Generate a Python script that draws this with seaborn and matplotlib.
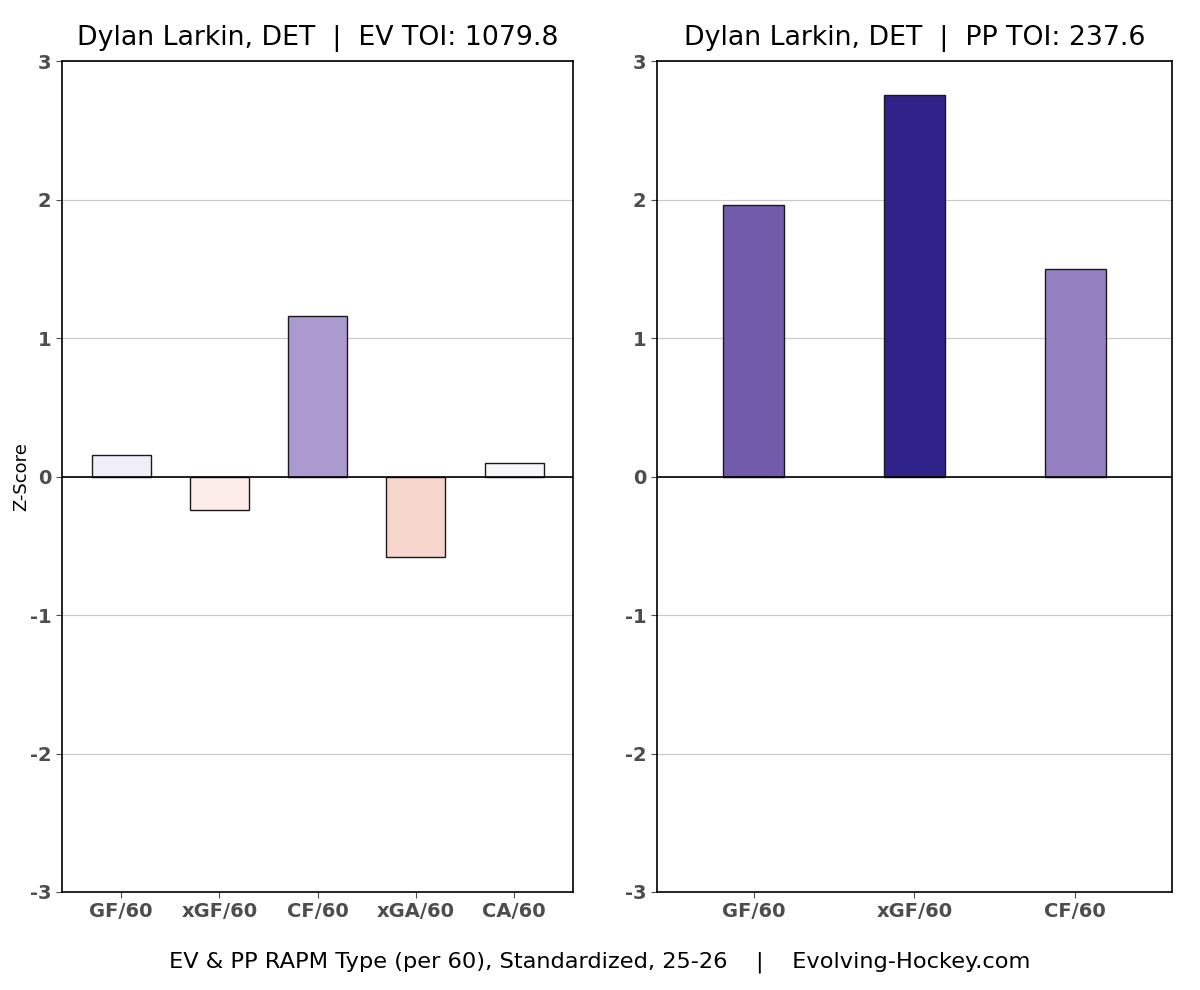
import seaborn as sns
import matplotlib.pyplot as plt
import pandas as pd

# EV panel
ev_types = ["GF/60", "xGF/60", "CF/60", "xGA/60", "CA/60"]
ev_z = [0.16, -0.24, 1.16, -0.58, 0.10]
ev_colors = ["#f0eff7", "#fdede8", "#ab9ad0", "#f7d6cb", "#f7f7fa"]

# PP panel
pp_types = ["GF/60", "xGF/60", "CF/60"]
pp_z = [1.96, 2.76, 1.50]
pp_colors = ["#725bab", "#2f238a", "#9580c2"]

player = "Dylan Larkin, DET"
ev_toi = 1079.8
pp_toi = 237.6

sns.set_style("white")
plt.rcParams['font.family'] = ['DejaVu Sans']
plt.rcParams['text.color'] = 'black'
plt.rcParams['axes.labelcolor'] = 'black'

fig = plt.figure(figsize=(12, 9.9), dpi=100)
ax1 = fig.add_axes([0.0517, 0.099, 0.426, 0.839])
ax2 = fig.add_axes([0.5475, 0.099, 0.429, 0.839])

panels = [
    (ax1, ev_types, ev_z, ev_colors, 0.6, f"{player}  |  EV TOI: {ev_toi}"),
    (ax2, pp_types, pp_z, pp_colors, 0.38, f"{player}  |  PP TOI: {pp_toi}"),
]

for ax, types, vals, cols, w, title in panels:
    df = pd.DataFrame({"type": types, "z": vals})
    ax.set_axisbelow(True)
    ax.yaxis.grid(True, color="#c8c8c8", linewidth=0.8)
    sns.barplot(data=df, x="type", y="z", hue="type", palette=cols,
                width=w, edgecolor="#1a1a1a", linewidth=1.0,
                legend=False, saturation=1, ax=ax)
    ax.axhline(0, color="black", linewidth=1.2, zorder=3)
    ax.set_ylim(-3, 3)
    ax.set_xlim(-0.6, len(types) - 0.4)
    ax.set_yticks([-3, -2, -1, 0, 1, 2, 3])
    ax.set_yticklabels(["-3", "-2", "-1", "0", "1", "2", "3"])
    ax.tick_params(axis="both", labelsize=14, colors="#4d4d4d",
                   length=4, width=0.8, direction="out", left=True, bottom=True)
    for lbl in ax.get_xticklabels() + ax.get_yticklabels():
        lbl.set_fontweight("bold")
        lbl.set_color("#4d4d4d")
    ax.set_xlabel("")
    ax.set_ylabel("")
    ax.set_title(title, fontsize=19.3, pad=12, color="black")
    for s in ax.spines.values():
        s.set_color("black")
        s.set_linewidth(1.2)

ax1.set_ylabel("Z-Score", fontsize=13, labelpad=0)
fig.text(0.5, 0.028, "EV & PP RAPM Type (per 60), Standardized, 25-26    |    Evolving-Hockey.com",
         ha="center", va="center", fontsize=16.2, color="black")

fig.savefig("out.png", dpi=100)
